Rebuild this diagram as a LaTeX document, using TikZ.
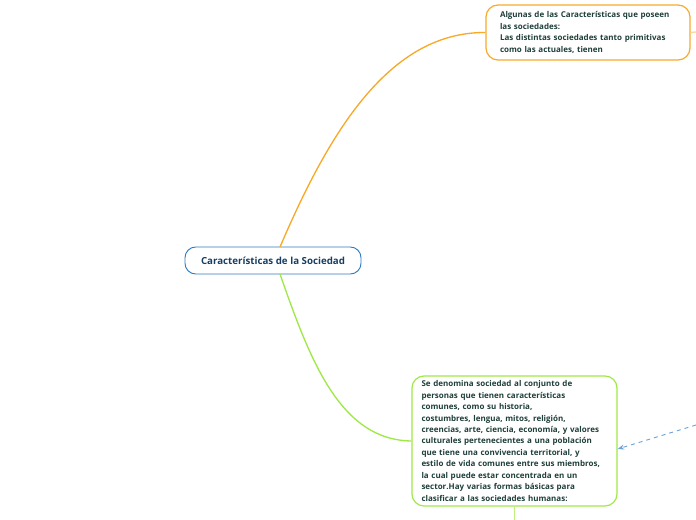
\documentclass[tikz,border=0pt]{standalone}
\usepackage{fontspec}
\setmainfont{Open Sans}
\usetikzlibrary{arrows.meta}
\definecolor{txt}{HTML}{1F3F3A}
\definecolor{org}{HTML}{F7A929}
\definecolor{grn}{HTML}{9FE847}
\definecolor{blu}{HTML}{2E7CC4}
\tikzset{
 topic/.style={draw, rounded corners=9pt, line width=0.9pt, align=left, inner sep=0pt, font=\fontsize{6}{8.6}\selectfont\bfseries, text=txt},
}
\begin{document}
\begin{tikzpicture}[x=0.75pt,y=-0.75pt]
\useasboundingbox (0,0) rectangle (696,520);
\node[draw=blu, rounded corners=8pt, line width=0.7pt, minimum width=176*0.75pt, minimum height=27*0.75pt, font=\fontsize{7.3}{9}\selectfont\bfseries, text=blu!50!black] (c) at (273,260.5) {Características de la Sociedad};
\node[topic, draw=org, minimum width=204*0.75pt, minimum height=55*0.75pt, text width=176*0.75pt] (t) at (588,32.5) {Algunas de las Características que poseen\\las sociedades:\\Las distintas sociedades tanto primitivas\\como las actuales, tienen};
\node[topic, draw=grn, minimum width=205*0.75pt, minimum height=130*0.75pt, text width=186*0.75pt] (g) at (514.5,441) {Se denomina sociedad al conjunto de\\personas que tienen características\\comunes, como su historia,\\ costumbres, lengua, mitos, religión,\\creencias, arte, ciencia, economía, y valores\\culturales pertenecientes a una población\\que tiene una convivencia territorial, y\\estilo de vida comunes entre sus miembros,\\la cual puede estar concentrada en un\\sector.Hay varias formas básicas para\\clasificar a las sociedades humanas:};
\coordinate (c1) at (280,247);
\coordinate (c2) at (280,274);
\draw[org, line width=1pt] (c1) .. controls (330,130) and (390,32) .. (t.west);
\draw[grn, line width=1pt] (c2) .. controls (310,360) and (340,440) .. (g.west);
\coordinate (r1) at (696,32);
\draw[org!45, line width=1pt] (t.east) -- (r1);
\coordinate (b1) at (514.5,520);
\draw[grn!70, line width=1pt] (g.south) -- (b1);
\coordinate (d1) at (696,425);
\draw[blu!70, dashed, line width=0.7pt, -{Stealth[length=5pt]}] (d1) -- ([yshift=-8*0.75pt]g.east);
\end{tikzpicture}
\end{document}
